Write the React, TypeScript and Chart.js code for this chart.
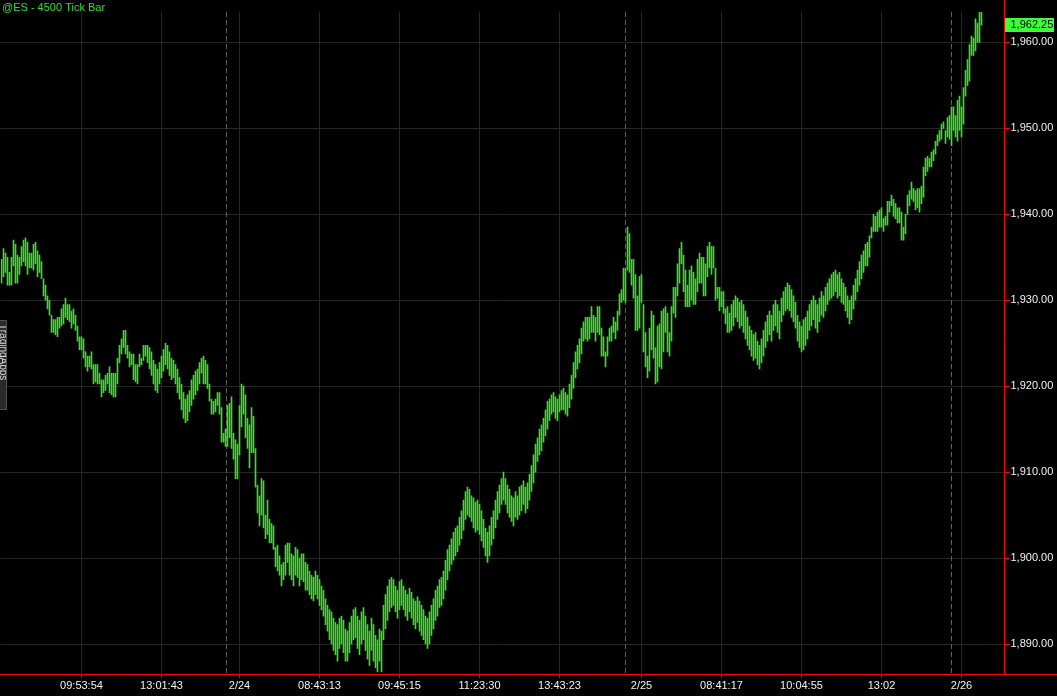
import React, { useEffect, useRef } from 'react';
import { Chart, registerables } from 'chart.js';

Chart.register(...registerables);

const chartTitle = '@ES - 4500 Tick Bar';
const sideTabText = 'TradingApps';
const lastPrice = 1962.25;
const slotCount = 502;

const highs = [
  1934.75, 1936, 1935.5, 1935, 1933.25, 1935, 1937, 1936.5, 1935.25, 1935,
  1936.25, 1937, 1937.25, 1936.75, 1935.5, 1935.5, 1936.5, 1936.75, 1935.75, 1935.25,
  1934.5, 1932.5, 1931.75, 1930.5, 1930, 1928.25, 1927.75, 1927.75, 1928, 1928,
  1929, 1929.5, 1930.25, 1929.5, 1929.5, 1928.75, 1929, 1928.25, 1927, 1925.75,
  1925.75, 1925.5, 1924, 1923.5, 1923.5, 1924, 1922.5, 1922.5, 1922.5, 1921.5,
  1920.75, 1920.75, 1921.25, 1921.5, 1922.25, 1921.5, 1921.5, 1921.5, 1923.25, 1924.75,
  1925.5, 1926.5, 1926.5, 1924.75, 1924, 1923.75, 1923.75, 1922.5, 1922.5, 1923.75,
  1923.25, 1924.75, 1924.75, 1924.75, 1924.5, 1924, 1923, 1922.5, 1922, 1922.75,
  1923.5, 1924.25, 1925, 1924.75, 1924, 1923.25, 1923, 1922.5, 1922, 1921,
  1920.25, 1919.25, 1918.5, 1919, 1919.5, 1920.75, 1921.25, 1921.75, 1922, 1922.75,
  1923.25, 1923.5, 1923, 1922.5, 1920.25, 1918.5, 1918.25, 1918.5, 1919.25, 1919.25,
  1917.5, 1914.5, 1915, 1917.75, 1918, 1918.75, 1914.5, 1913.75, 1913.25, 1917.75,
  1920.25, 1920, 1919, 1916.25, 1915.5, 1917.5, 1916.5, 1912.75, 1908.5, 1907.25,
  1909.25, 1909, 1905, 1906.75, 1904.5, 1904, 1903.75, 1901.25, 1901.5, 1900.25,
  1899.25, 1899.5, 1901.5, 1901.75, 1901.75, 1900.5, 1900.25, 1901.25, 1901, 1900,
  1900.5, 1900.5, 1899.5, 1899.25, 1898.5, 1898, 1897.75, 1898.5, 1898, 1897.5,
  1896.75, 1896.25, 1895.25, 1894.5, 1894, 1893.75, 1893, 1892.5, 1892.25, 1893,
  1893.25, 1892.75, 1891.75, 1891.5, 1892.5, 1893.25, 1894, 1894.25, 1893.25, 1892.75,
  1893.75, 1894.25, 1893.25, 1892.25, 1891.5, 1893, 1892.25, 1891, 1890.5, 1891.75,
  1891.5, 1894.5, 1895.75, 1896.75, 1897.5, 1897.75, 1897.5, 1896.75, 1896.25, 1897.25,
  1897.5, 1896.75, 1896.25, 1895.75, 1896.5, 1896, 1895.25, 1895, 1895.5, 1895,
  1894.5, 1894, 1893.25, 1893, 1893.75, 1894.5, 1895.25, 1896.25, 1896.75, 1897.5,
  1897.75, 1898.5, 1899.75, 1901, 1901.5, 1902.25, 1903, 1903.5, 1903.75, 1904.75,
  1905.5, 1906.75, 1907.75, 1908.25, 1908, 1907.25, 1907, 1906.5, 1906.75, 1906.25,
  1905.5, 1904.5, 1903.5, 1903, 1903.75, 1904.75, 1905.5, 1906.75, 1907.75, 1908.5,
  1909.25, 1910, 1909.25, 1908.5, 1908, 1907.25, 1907, 1907.75, 1907.25, 1908.25,
  1908.5, 1909, 1908.25, 1908.75, 1909.75, 1910.75, 1912, 1913.25, 1914, 1915,
  1915.5, 1916.25, 1917.25, 1918.25, 1918.5, 1919, 1919.25, 1918.75, 1918.5, 1919,
  1919.5, 1919.75, 1919.25, 1919, 1920.25, 1921.25, 1922.75, 1924, 1924.75, 1925.5,
  1926.75, 1927.5, 1928, 1928, 1928, 1929.25, 1928.25, 1928, 1929.25, 1929.25,
  1926.75, 1925.75, 1924, 1925.75, 1926.75, 1927, 1928, 1927.5, 1928.75, 1930.75,
  1931.25, 1933.75, 1933.75, 1938.5, 1937.75, 1934.75, 1934.75, 1933, 1930.5, 1932.75,
  1933, 1929.5, 1926.25, 1923.5, 1926.75, 1928.75, 1928.25, 1924.5, 1927, 1927.25,
  1928.75, 1929, 1929.25, 1928.5, 1926.25, 1929.25, 1931.5, 1931.5, 1934.25, 1936,
  1936.75, 1935.25, 1933.5, 1931.75, 1933.5, 1934, 1933.25, 1932.5, 1934.75, 1935.5,
  1935, 1935, 1934.25, 1936.25, 1936.75, 1936.25, 1936.25, 1933.75, 1931.5, 1931.5,
  1931, 1931, 1929, 1929.25, 1928.5, 1929.5, 1930, 1930.5, 1930.25, 1929.75,
  1930, 1929.5, 1928.75, 1928, 1927, 1926.5, 1926, 1926.25, 1925.25, 1924.75,
  1925.5, 1926.5, 1927.5, 1928.25, 1928.75, 1928.25, 1929.5, 1930, 1929.5, 1928.75,
  1930.25, 1931, 1931.5, 1932, 1931.75, 1931.25, 1930.5, 1929.75, 1928.25, 1927.5,
  1927, 1927.75, 1928, 1928.75, 1929.5, 1930, 1930.5, 1930, 1929.5, 1930.25,
  1931, 1930.5, 1931.5, 1932, 1932.5, 1933, 1933.25, 1933.5, 1933, 1933.25,
  1932.5, 1932, 1931.5, 1930.5, 1930, 1930.5, 1931.75, 1932.5, 1933.5, 1934.5,
  1935.25, 1935.75, 1936.5, 1936.75, 1937.5, 1938.5, 1940, 1939.75, 1940.25, 1940.5,
  1940.75, 1939.5, 1939.75, 1941.5, 1941.5, 1942.25, 1941.75, 1941.25, 1940.75, 1940.75,
  1940.25, 1938.5, 1940, 1942.25, 1942.75, 1943.75, 1943, 1942.75, 1943, 1943,
  1943.25, 1945.5, 1946.5, 1946.75, 1946.5, 1947.25, 1947.5, 1948.5, 1949.25, 1949.75,
  1950.5, 1950.75, 1949.75, 1951.25, 1951.5, 1952.5, 1952.5, 1951.5, 1953.25, 1953.75,
  1952.5, 1954.75, 1956.75, 1958, 1959.75, 1960.75, 1960.5, 1962.75, 1962.25, 1963.5,
  1963.5,
];

const lows = [
  1932, 1932.75, 1933.25, 1931.75, 1931.75, 1931.75, 1934, 1932, 1932, 1933,
  1934, 1934.5, 1934, 1933, 1933.75, 1933.75, 1933.5, 1934.25, 1932.75, 1933.25,
  1932.5, 1930.5, 1930, 1929, 1928.25, 1926.25, 1926.25, 1926, 1925.75, 1926.75,
  1927, 1927.25, 1928, 1927.75, 1927.5, 1926.75, 1927.25, 1926.5, 1925.25, 1924.25,
  1924.25, 1923.25, 1922.25, 1921.75, 1922.25, 1922, 1920.25, 1920.5, 1920.25, 1920.25,
  1918.75, 1919.25, 1919.5, 1920.25, 1919.25, 1919, 1918.75, 1918.75, 1920.25, 1922.75,
  1923.75, 1924.5, 1923.75, 1923.25, 1922.25, 1922.5, 1920.75, 1920.5, 1920.25, 1922.25,
  1922.5, 1923, 1923.5, 1922.75, 1922, 1921.25, 1920.25, 1919.5, 1919.25, 1920.25,
  1921, 1921.75, 1922.5, 1922, 1921.25, 1920.75, 1921, 1920.25, 1919.25, 1918.5,
  1917.25, 1916.25, 1915.75, 1916, 1917, 1917.75, 1918.5, 1919, 1919.5, 1920.25,
  1921.5, 1920.25, 1920.25, 1919.75, 1918.25, 1916.75, 1916.75, 1917, 1917.75, 1916.75,
  1913.5, 1913.5, 1913, 1913, 1914, 1912.75, 1911.5, 1909.25, 1909.25, 1912,
  1915.25, 1916.75, 1914, 1912.75, 1910.5, 1912.25, 1912.25, 1908.25, 1905.25, 1903.75,
  1905, 1903.5, 1902.25, 1902.75, 1901.75, 1901.75, 1901, 1899, 1898.5, 1898,
  1896.75, 1897.5, 1898, 1899.5, 1898, 1897.5, 1896.75, 1898, 1897.75, 1896.75,
  1897.5, 1897.25, 1896.25, 1896.25, 1895.75, 1895.25, 1895, 1895.75, 1895.25, 1894.5,
  1894, 1893.25, 1892.25, 1891.5, 1890.5, 1890, 1889.25, 1888.75, 1888, 1889.5,
  1890, 1889, 1888, 1888, 1889, 1890, 1890.5, 1890.75, 1889.5, 1888.75,
  1890, 1890.5, 1889.25, 1888.25, 1887.5, 1889.25, 1888, 1887.25, 1886.75, 1888,
  1886.75, 1890.5, 1891.75, 1892.75, 1893.75, 1894.25, 1894.5, 1893.75, 1893, 1894,
  1894.5, 1894, 1893.25, 1892.75, 1893.75, 1893, 1892.25, 1891.75, 1892.5, 1891.5,
  1891, 1890.5, 1890, 1889.5, 1890, 1891, 1891.75, 1892.75, 1893.25, 1894.25,
  1894.5, 1895.25, 1896.25, 1897.5, 1898.5, 1899.25, 1899.75, 1900.25, 1900.75, 1901.5,
  1902.25, 1903.25, 1904.5, 1905, 1904.75, 1904.25, 1903.5, 1903, 1903.25, 1902.75,
  1902, 1901.25, 1900.25, 1899.5, 1900.25, 1901.5, 1902.25, 1903.5, 1904.5, 1905.25,
  1906.25, 1906.75, 1906.25, 1905.25, 1904.75, 1904.25, 1903.75, 1904.75, 1904.5, 1905,
  1905.5, 1906.25, 1905.25, 1905.75, 1906.75, 1907.75, 1908.75, 1910, 1911.25, 1912,
  1912.5, 1913.5, 1914.25, 1915, 1916, 1916.75, 1917, 1916.25, 1916, 1917,
  1917.25, 1917.25, 1916.75, 1916.5, 1917.5, 1918.5, 1919.75, 1921, 1922, 1922.75,
  1923.75, 1925.25, 1925.5, 1925.25, 1925.5, 1926.25, 1926.25, 1925.25, 1926.25, 1926,
  1923.5, 1923.5, 1922.25, 1923.5, 1925.25, 1925.25, 1926.25, 1925.5, 1926.5, 1928.25,
  1929.75, 1930, 1929.75, 1933.5, 1933.25, 1931.75, 1930.25, 1926.5, 1926.5, 1926.75,
  1929.75, 1924, 1922.25, 1921, 1921.75, 1924.25, 1923.25, 1920.25, 1920.5, 1922.25,
  1922, 1924, 1926.25, 1924, 1923.5, 1925.25, 1928.5, 1928, 1930.5, 1932,
  1934.25, 1931, 1929.25, 1929.25, 1929.25, 1930, 1929.5, 1929.5, 1931, 1932,
  1932, 1930.5, 1930.5, 1932.75, 1933.75, 1933, 1933.75, 1930, 1930.25, 1928.75,
  1929.25, 1928.5, 1927.25, 1926.25, 1926.25, 1926.5, 1927, 1928, 1927.5, 1926.75,
  1927, 1926.25, 1925.5, 1924.75, 1924.25, 1923.5, 1923, 1923.25, 1922.5, 1922,
  1922.75, 1923.5, 1924.5, 1925.25, 1926, 1925.25, 1926.5, 1927, 1926.25, 1925.5,
  1927.5, 1928.25, 1928.75, 1929, 1928.75, 1928, 1927.5, 1926.75, 1925.25, 1924.5,
  1924, 1924.25, 1924.75, 1925.5, 1926.5, 1927, 1927.75, 1926.75, 1926.25, 1927.5,
  1928.25, 1928, 1928.75, 1929.5, 1930, 1930.25, 1930.5, 1931, 1930.25, 1930.5,
  1929.75, 1929.5, 1928.75, 1928, 1927.25, 1927.75, 1929, 1930, 1931, 1931.75,
  1932.5, 1933.25, 1934, 1934, 1935, 1937.25, 1938, 1938, 1938, 1938.5,
  1938.5, 1938, 1938.75, 1938.75, 1940.25, 1941, 1939.75, 1939.5, 1939, 1939,
  1937, 1937, 1937.75, 1940, 1941, 1941.75, 1941.5, 1940.5, 1940.75, 1940.25,
  1941.25, 1942, 1944.5, 1945, 1945.5, 1945.5, 1946.25, 1947, 1948, 1948.5,
  1948.75, 1950, 1948.25, 1949, 1948.75, 1948, 1949.75, 1949, 1948.5, 1949.75,
  1949, 1950.5, 1953.75, 1955, 1955.5, 1958.5, 1958.5, 1959, 1960, 1960,
  1962,
];

const xTickIndex = [40, 80, 119, 159, 199, 239, 279, 320, 360, 400, 440, 480];
const xTickLabels = ['09:53:54', '13:01:43', '2/24', '08:43:13', '09:45:15', '11:23:30', '13:43:23', '2/25', '08:41:17', '10:04:55', '13:02', '2/26'];
const sessionBreaks = [112.5, 312, 475];
const yTicks = [1890, 1900, 1910, 1920, 1930, 1940, 1950, 1960];

const FONT = '"Liberation Sans", Arial, sans-serif';
const BAR_GREEN = '#3ade2a';
const GRID = '#262626';
const AXIS_RED = '#ff0000';

const fmt = (v: number) =>
  v.toLocaleString('en-US', { minimumFractionDigits: 2, maximumFractionDigits: 2 });

export default function App() {
  const ref = useRef<HTMLCanvasElement>(null);

  useEffect(() => {
    const canvas = ref.current;
    if (!canvas) return;
    const slotLabels = Array.from({ length: slotCount }, (_, i) => String(i));
    const barData = highs.map((h, i) => [lows[i], h]);

    const overlay = {
      id: 'overlay',
      beforeDraw(chart: any) {
        const { ctx } = chart;
        ctx.save();
        ctx.fillStyle = '#000';
        ctx.fillRect(0, 0, chart.width, chart.height);
        ctx.restore();
      },
      beforeDatasetsDraw(chart: any) {
        const { ctx, chartArea } = chart;
        const xs = chart.scales.x;
        ctx.save();
        ctx.strokeStyle = '#5e5e5e';
        ctx.lineWidth = 1;
        ctx.setLineDash([5, 3]);
        sessionBreaks.forEach((b) => {
          const x = Math.floor(xs.getPixelForValue(b)) + 0.5;
          ctx.beginPath();
          ctx.moveTo(x, chartArea.top);
          ctx.lineTo(x, chartArea.bottom);
          ctx.stroke();
        });
        ctx.restore();
      },
      afterDraw(chart: any) {
        const { ctx, chartArea } = chart;
        const ys = chart.scales.y;
        ctx.save();
        ctx.strokeStyle = AXIS_RED;
        ctx.lineWidth = 1;
        const rx = Math.floor(chartArea.right) + 0.5;
        const by = Math.floor(chartArea.bottom) + 0.5;
        ctx.beginPath();
        ctx.moveTo(rx, 0);
        ctx.lineTo(rx, by);
        ctx.moveTo(0, by);
        ctx.lineTo(chart.width, by);
        ctx.stroke();
        ctx.fillStyle = '#2ee02e';
        ctx.font = '11px ' + FONT;
        ctx.textBaseline = 'alphabetic';
        ctx.textAlign = 'left';
        ctx.fillText(chartTitle, 2, 11);
        const py = ys.getPixelForValue(lastPrice);
        ctx.fillStyle = '#3cff3c';
        ctx.fillRect(rx + 0.5, Math.round(py) - 5, 49, 14);
        ctx.fillStyle = '#000';
        ctx.textBaseline = 'middle';
        ctx.fillText(fmt(lastPrice), rx + 6, Math.round(py) + 2);
        // collapsed side tab on the left edge
        ctx.fillStyle = '#2a2a2a';
        ctx.fillRect(0, 320, 7, 90);
        ctx.strokeStyle = '#505050';
        ctx.strokeRect(-0.5, 320.5, 7, 89);
        ctx.beginPath();
        ctx.rect(0, 321, 6, 88);
        ctx.clip();
        ctx.translate(3, 324);
        ctx.rotate(Math.PI / 2);
        ctx.fillStyle = '#d8d8d8';
        ctx.font = '10px ' + FONT;
        ctx.textBaseline = 'middle';
        ctx.textAlign = 'left';
        ctx.fillText(sideTabText, 0, 0);
        ctx.restore();
      },
    };

    const chart = new Chart(canvas, {
      type: 'bar',
      data: {
        labels: slotLabels,
        datasets: [
          {
            data: barData as any,
            backgroundColor: BAR_GREEN,
            borderWidth: 0,
            barThickness: 1,
          },
        ],
      },
      options: {
        animation: false,
        responsive: false,
        devicePixelRatio: 1,
        layout: { padding: { left: 0.5, top: 12, right: 0, bottom: 0 } },
        plugins: { legend: { display: false }, tooltip: { enabled: false } },
        scales: {
          x: {
            type: 'category',
            offset: true,
            border: { display: false },
            grid: { offset: false, color: GRID, tickColor: AXIS_RED, tickLength: 4, lineWidth: 1 },
            ticks: {
              autoSkip: false,
              maxRotation: 0,
              minRotation: 0,
              padding: 1,
              color: '#f2f2f2',
              font: { family: FONT, size: 11 },
              callback: (_v: any, i: number) => xTickLabels[i] ?? '',
            },
            afterBuildTicks: (s: any) => {
              s.ticks = xTickIndex.map((v) => ({ value: v }));
            },
            afterFit: (s: any) => {
              s.height = 22;
            },
          },
          y: {
            type: 'linear',
            position: 'right',
            min: 1886.51,
            max: 1963.54,
            border: { display: false },
            grid: { color: GRID, tickColor: AXIS_RED, tickLength: 5, lineWidth: 1 },
            ticks: {
              padding: 1,
              color: '#f2f2f2',
              font: { family: FONT, size: 11 },
              callback: (v: any) => fmt(Number(v)),
            },
            afterBuildTicks: (s: any) => {
              s.ticks = yTicks.map((v) => ({ value: v }));
            },
            afterFit: (s: any) => {
              s.width = 52.5;
            },
          },
        },
      },
      plugins: [overlay],
    });
    return () => chart.destroy();
  }, []);

  return (
    <div style={{ position: 'fixed', left: 0, top: 0, width: 1057, height: 696, background: '#000' }}>
      <canvas ref={ref} width={1057} height={696} style={{ display: 'block', width: 1057, height: 696 }} />
    </div>
  );
}
